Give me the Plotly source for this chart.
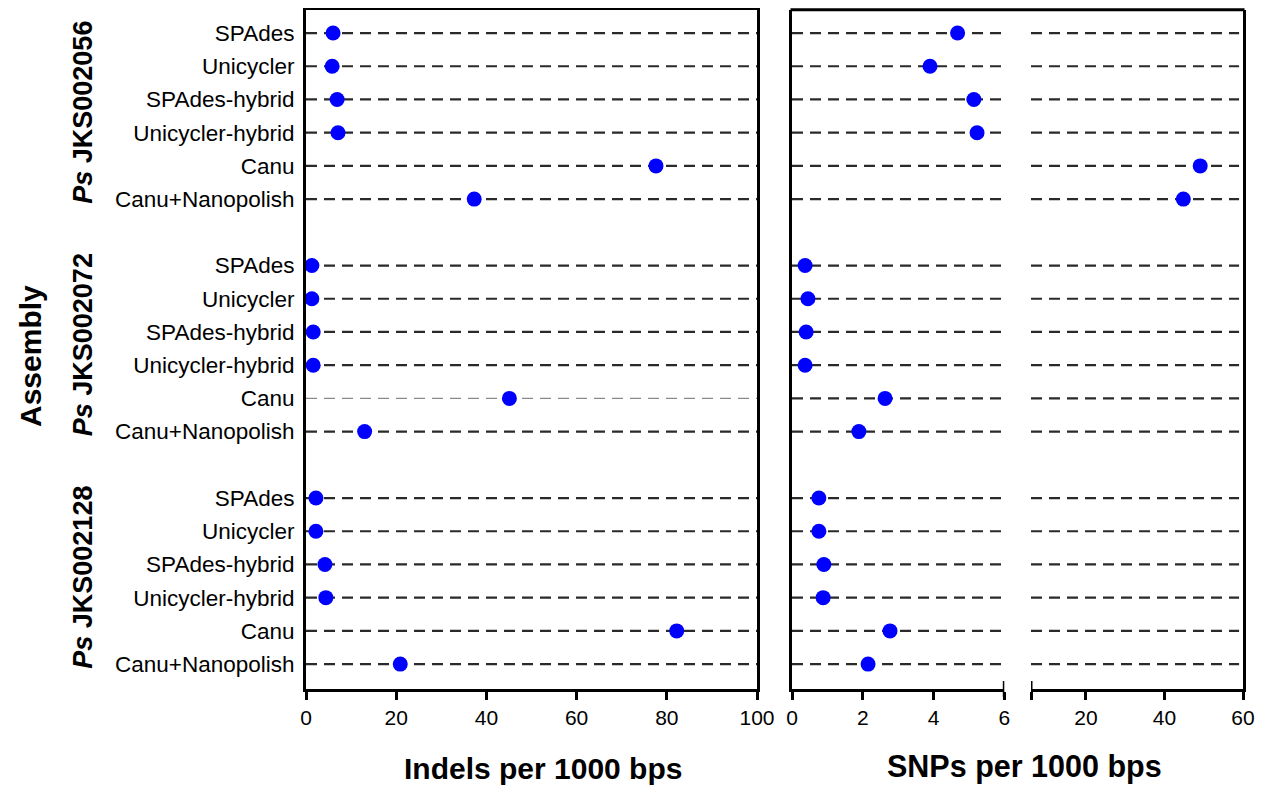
import plotly.graph_objects as go

# ---------------- data ----------------
groups = ["JKS002056", "JKS002072", "JKS002128"]
assemblies = ["SPAdes", "Unicycler", "SPAdes-hybrid", "Unicycler-hybrid", "Canu", "Canu+Nanopolish"]

indels_056 = [6.0, 5.8, 6.9, 7.1, 77.6, 37.3]
indels_072 = [1.3, 1.3, 1.6, 1.6, 45.1, 13.0]
indels_128 = [2.2, 2.2, 4.2, 4.4, 82.2, 20.9]

snps_056 = [4.68, 3.90, 5.14, 5.23, 49.1, 44.8]
snps_072 = [0.37, 0.45, 0.40, 0.37, 2.63, 1.89]
snps_128 = [0.76, 0.76, 0.90, 0.88, 2.77, 2.15]

indels = [indels_056, indels_072, indels_128]
snps = [snps_056, snps_072, snps_128]

left_ticks = [0, 20, 40, 60, 80, 100]
snp_low_ticks = [0, 2, 4, 6]
snp_high_ticks = [6, 20, 40, 60]
snp_high_labels = ["", "20", "40", "60"]

# ---------------- layout helpers ----------------
# the page body has an 8px margin, so the figure is sized to fit inside it
OFF = 8
W, H = 1268 - 2 * OFF, 793 - 2 * OFF
def px(x):
    return (x - OFF) / W
def py(y):
    return 1 - (y - OFF) / H

FONT = "Liberation Sans, Arial, Helvetica, sans-serif"
BLUE = "#0000FF"
LINE_C = "#2a2a2a"
DASH = "11px,7px"

LEFT_RANGE = [0, 100]
LOW_RANGE = [0, 6]
HIGH_RANGE = [6, 60]
BREAK = 6

row_y, row_text = [], []
for g in range(len(groups)):
    for i, a in enumerate(assemblies):
        row_y.append(g * 7 + i)
        row_text.append(a)
Y_RANGE = [19.75, -0.70]

fig = go.Figure()

# dashed reference lines
for g in range(len(groups)):
    for i, a in enumerate(assemblies):
        y = g * 7 + i
        thin = (g == 1 and a == "Canu")
        fig.add_trace(go.Scatter(
            x=LEFT_RANGE, y=[y, y], mode="lines", xaxis="x", yaxis="y",
            line=dict(color="#8a8a8a" if thin else LINE_C, width=1.2 if thin else 2.2, dash=DASH),
            hoverinfo="skip", showlegend=False))
        fig.add_trace(go.Scatter(
            x=LOW_RANGE, y=[y, y], mode="lines", xaxis="x2", yaxis="y2",
            line=dict(color=LINE_C, width=2.2, dash=DASH),
            hoverinfo="skip", showlegend=False))
        fig.add_trace(go.Scatter(
            x=[HIGH_RANGE[0], 59], y=[y, y], mode="lines", xaxis="x3", yaxis="y3",
            line=dict(color=LINE_C, width=2.2, dash=DASH),
            hoverinfo="skip", showlegend=False))

# markers
for g in range(len(groups)):
    ys = [g * 7 + i for i in range(len(assemblies))]
    fig.add_trace(go.Scatter(
        x=indels[g], y=ys, mode="markers", xaxis="x", yaxis="y",
        marker=dict(color=BLUE, size=15, line=dict(width=0)),
        text=assemblies, showlegend=False))
    lo_x = [v for v in snps[g] if v <= BREAK]
    lo_y = [y for v, y in zip(snps[g], ys) if v <= BREAK]
    hi_x = [v for v in snps[g] if v > BREAK]
    hi_y = [y for v, y in zip(snps[g], ys) if v > BREAK]
    fig.add_trace(go.Scatter(
        x=lo_x, y=lo_y, mode="markers", xaxis="x2", yaxis="y2",
        marker=dict(color=BLUE, size=15, line=dict(width=0)), showlegend=False))
    fig.add_trace(go.Scatter(
        x=hi_x, y=hi_y, mode="markers", xaxis="x3", yaxis="y3",
        marker=dict(color=BLUE, size=15, line=dict(width=0)), showlegend=False))

TOP = 9.8
BOT = 689
ydom = [py(BOT), py(TOP)]
tickfont = dict(family=FONT, size=21, color="black")
catfont = dict(family=FONT, size=22.5, color="black")

common_x = dict(showline=True, linecolor="black", linewidth=3, ticks="outside",
                ticklen=8, tickwidth=3, tickcolor="black", showgrid=False,
                zeroline=False, tickfont=tickfont, automargin=False)

fig.update_layout(
    width=W, height=H,
    margin=dict(l=0, r=0, t=0, b=0, pad=0),
    paper_bgcolor="white", plot_bgcolor="white",
    font=dict(family=FONT, color="black"),
    xaxis=dict(domain=[px(306), px(757)], range=LEFT_RANGE, tickvals=left_ticks,
               anchor="y", mirror=True, **common_x),
    yaxis=dict(domain=ydom, range=Y_RANGE, tickvals=row_y, ticktext=row_text,
               showline=True, linecolor="black", linewidth=3, mirror=True,
               ticks="", showgrid=False, zeroline=False, anchor="x",
               tickfont=catfont, ticklabelstandoff=4, automargin=False),
    xaxis2=dict(domain=[px(792), px(1004.3)], range=LOW_RANGE, tickvals=snp_low_ticks,
                anchor="y2", **common_x),
    yaxis2=dict(domain=ydom, range=Y_RANGE, showline=True, linecolor="black",
                linewidth=3, showticklabels=False, ticks="", showgrid=False,
                zeroline=False, anchor="x2", automargin=False),
    xaxis3=dict(domain=[px(1031), px(1243)], range=HIGH_RANGE, tickvals=snp_high_ticks,
                ticktext=snp_high_labels, anchor="y3", **common_x),
    yaxis3=dict(domain=ydom, range=Y_RANGE, showline=True, linecolor="black",
                linewidth=3, showticklabels=False, ticks="", showgrid=False,
                zeroline=False, anchor="x3", side="right", automargin=False),
)

# top border of the broken-axis panel and break caps
fig.add_shape(type="line", xref="paper", yref="paper",
              x0=px(792) - 1.5 / W, x1=px(1243) + 1.5 / W, y0=py(TOP), y1=py(TOP),
              line=dict(color="black", width=3))
cap = 8 / (BOT - TOP)
fig.add_shape(type="line", xref="x2", yref="y2 domain", x0=BREAK, x1=BREAK,
              y0=-cap, y1=cap, line=dict(color="black", width=3))
fig.add_shape(type="line", xref="x3", yref="y3 domain", x0=HIGH_RANGE[0], x1=HIGH_RANGE[0],
              y0=-cap, y1=cap, line=dict(color="black", width=3))

# titles
ann = dict(showarrow=False, xanchor="center", yanchor="middle")
fig.add_annotation(text="<b>Indels per 1000 bps</b>", xref="paper", yref="paper",
                   x=px(543), y=py(768), font=dict(family=FONT, size=30, color="black"), **ann)
fig.add_annotation(text="<b>SNPs per 1000 bps</b>", xref="paper", yref="paper",
                   x=px(1024), y=py(766), font=dict(family=FONT, size=30.5, color="black"), **ann)
fig.add_annotation(text="<b>Assembly</b>", xref="paper", yref="paper",
                   x=px(30), y=py(356), textangle=-90,
                   font=dict(family=FONT, size=30, color="black"), **ann)
for g, name in enumerate(groups):
    fig.add_annotation(text="<b><i>Ps</i> " + name + "</b>", xref="paper", yref="y",
                       x=px(83), y=g * 7 + 2.4, textangle=-90,
                       font=dict(family=FONT, size=27, color="black"), **ann)

fig.write_html("out.html")
